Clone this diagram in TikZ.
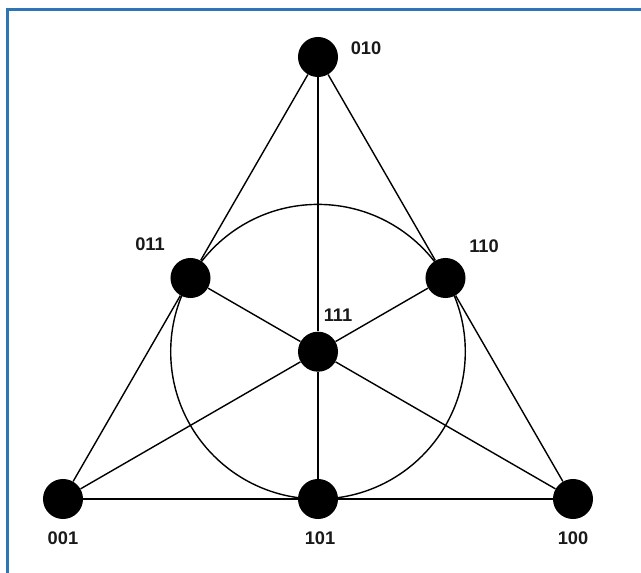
\documentclass[tikz,border=0pt]{standalone}
\usepackage{fontspec}
\setsansfont{Liberation Sans}
\usepackage{xcolor}
\usepackage{tikz}
\usetikzlibrary{positioning}
\definecolor{frameblue}{HTML}{2E75B6}

\begin{document}
\begin{tikzpicture}[
    x=0.025cm, y=-0.025cm,
    font=\sffamily\bfseries\fontsize{13}{15}\selectfont,
    point/.style={circle, fill=black, draw=none, minimum size=1cm, inner sep=0pt},
    tag/.style={inner sep=0pt, text=black!90},
    edge/.style={line width=1pt, draw=black}
]
\useasboundingbox (0,0) rectangle (641,573);
\draw[frameblue, line width=2.1pt] (7.5,573) -- (7.5,9.5) -- (641,9.5);

\node[point] (n010) at (318,57) {};
\node[point] (n011) at (190.5,278) {};
\node[point] (n110) at (445.5,278) {};
\node[point] (n111) at (318,351.7) {};
\node[point] (n001) at (63,499) {};
\node[point] (n101) at (318,499) {};
\node[point] (n100) at (573,499) {};

\draw[edge] (n111.center) circle[radius=147.3];

\draw[edge] (n010) -- (n011);
\draw[edge] (n011) -- (n001);
\draw[edge] (n010) -- (n110);
\draw[edge] (n110) -- (n100);
\draw[edge] (n001) -- (n101);
\draw[edge] (n101) -- (n100);
\draw[edge] (n010) -- (n111);
\draw[edge] (n111) -- (n101);
\draw[edge] (n011) -- (n111);
\draw[edge] (n111) -- (n100);
\draw[edge] (n110) -- (n111);
\draw[edge] (n111) -- (n001);

\node[tag] (l010) at (366,48) {010};
\node[tag] (l011) at (150,244) {011};
\node[tag] (l110) at (484,246) {110};
\node[tag] (l111) at (338,315) {111};
\node[tag] (l001) at (63,538) {001};
\node[tag] (l101) at (320,538) {101};
\node[tag] (l100) at (573,538) {100};
\end{tikzpicture}
\end{document}
